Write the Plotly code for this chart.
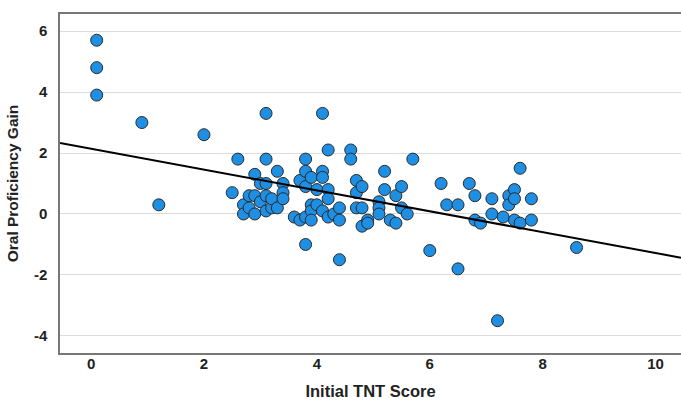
import plotly.graph_objects as go

tnt_score = [0.1, 0.1, 0.1, 0.9, 1.2, 2.0, 2.5, 2.6, 2.7, 2.7, 2.8, 2.8, 2.9, 2.9, 2.9,
             3.0, 3.0, 3.1, 3.1, 3.1, 3.1, 3.1, 3.2, 3.2, 3.3, 3.3, 3.4, 3.4, 3.4,
             3.6, 3.7, 3.7, 3.8, 3.8, 3.8, 3.8, 3.8, 3.9, 3.9, 3.9, 3.9, 4.0, 4.0,
             4.1, 4.1, 4.1, 4.1, 4.2, 4.2, 4.2, 4.2, 4.3, 4.4, 4.4, 4.4, 4.6, 4.6,
             4.7, 4.7, 4.7, 4.8, 4.8, 4.8, 4.9, 4.9, 5.1, 5.1, 5.1, 5.2, 5.2, 5.3,
             5.4, 5.4, 5.5, 5.5, 5.6, 5.7, 6.0, 6.2, 6.3, 6.5, 6.5, 6.7, 6.8, 6.8,
             6.9, 7.1, 7.1, 7.2, 7.3, 7.4, 7.4, 7.5, 7.5, 7.5, 7.6, 7.6, 7.8, 7.8, 8.6]
oral_gain = [5.7, 4.8, 3.9, 3.0, 0.3, 2.6, 0.7, 1.8, 0.3, 0.0, 0.6, 0.2, 1.3, 0.6, 0.0,
             1.0, 0.4, 3.3, 1.8, 1.0, 0.6, 0.1, 0.2, 0.5, 1.4, 0.2, 1.0, 0.7, 0.5,
             -0.1, 1.1, -0.2, 1.8, 1.4, 0.9, -0.1, -1.0, 1.2, 0.3, 0.1, -0.2, 0.8, 0.3,
             3.3, 1.4, 1.2, 0.1, 2.1, 0.8, 0.5, -0.1, 0.0, 0.2, -0.2, -1.5, 2.1, 1.8,
             1.1, 0.7, 0.2, 0.9, 0.2, -0.4, -0.2, -0.3, 0.4, 0.2, 0.0, 1.4, 0.8, -0.2,
             0.6, -0.3, 0.9, 0.2, 0.0, 1.8, -1.2, 1.0, 0.3, 0.3, -1.8, 1.0, 0.6, -0.2,
             -0.3, 0.5, 0.0, -3.5, -0.1, 0.6, 0.3, 0.8, 0.5, -0.2, 1.5, -0.3, 0.5, -0.2, -1.1]

fit_intercept = 2.14
fit_slope = -0.342

x_range = [-0.55, 10.45]
y_range = [-4.56, 6.56]
x_ticks = [0, 2, 4, 6, 8, 10]
x_tick_labels = ["0", "2", "4", "6", "8", "10"]
y_ticks = [-4, -2, 0, 2, 4, 6]
y_tick_labels = ["-4", "-2", "0", "2", "4", "6"]

fig = go.Figure()
fig.add_trace(go.Scatter(
    x=tnt_score, y=oral_gain, mode="markers",
    marker=dict(size=12, color="#1e8fe3", line=dict(color="#2a2a2a", width=1)),
    showlegend=False, cliponaxis=False,
))
fit_x = x_range
fit_y = [fit_intercept + fit_slope * v for v in fit_x]
fig.add_trace(go.Scatter(
    x=fit_x, y=fit_y, mode="lines",
    line=dict(color="black", width=2), showlegend=False,
))

font_family = "Liberation Sans"
fig.update_layout(
    width=681, height=409,
    margin=dict(l=60, r=0, t=14, b=56, autoexpand=False),
    paper_bgcolor="white", plot_bgcolor="white",
    font=dict(family=font_family, size=15, color="#222"),
)
fig.update_xaxes(
    range=x_range, tickvals=x_ticks, ticktext=["<b>%s</b>" % t for t in x_tick_labels],
    showgrid=False, zeroline=False,
    showline=True, mirror=True, linecolor="#777", linewidth=1.5,
    ticks="", ticklabelstandoff=-4,
    tickfont=dict(family=font_family, size=15, color="#222"),
    automargin=False,
    title=dict(text="<b>Initial TNT Score</b>",
               font=dict(family=font_family, size=16.5, color="#222"), standoff=15),
)
fig.update_yaxes(
    range=y_range, tickvals=y_ticks, ticktext=["<b>%s</b>" % t for t in y_tick_labels],
    showgrid=True, gridcolor="#dcdcdc", gridwidth=1,
    zeroline=False, showline=True, mirror=False, linecolor="#777", linewidth=1.5,
    ticks="outside", ticklen=8, tickcolor="rgba(0,0,0,0)",
    tickfont=dict(family=font_family, size=15, color="#222"),
    automargin=False,
    title=dict(text="<b>Oral Proficiency Gain</b>",
               font=dict(family=font_family, size=15.5, color="#222"), standoff=11),
)

fig.write_html("out.html")
